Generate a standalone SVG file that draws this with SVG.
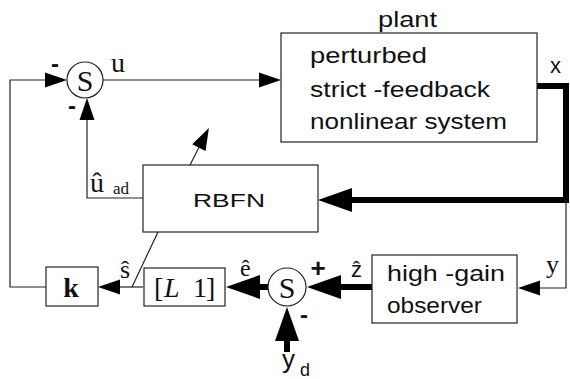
<svg xmlns="http://www.w3.org/2000/svg" width="570" height="379" viewBox="0 0 570 379">
<style>
.box{fill:#fff;stroke:#222;stroke-width:1.2}
.sum{fill:#fff;stroke:#222;stroke-width:1.2}
.thin{fill:none;stroke:#222;stroke-width:1.2}
.thick{fill:none;stroke:#000;stroke-width:6}
.sans{font-family:"Liberation Sans",Arial,sans-serif;fill:#111}
.serif{font-family:"Liberation Serif","DejaVu Serif",serif;fill:#111}
</style>
<defs>
<marker id="aT" markerUnits="userSpaceOnUse" markerWidth="24" markerHeight="16" refX="0" refY="7.5" orient="auto" overflow="visible">
<path d="M0,0 L22,7.5 L0,15 z" fill="#000"/>
</marker>
<marker id="aK" markerUnits="userSpaceOnUse" markerWidth="36" markerHeight="26" refX="0" refY="12" orient="auto" overflow="visible">
<path d="M0,0 L34,12 L0,24 z" fill="#000"/>
</marker>
</defs>
<rect width="570" height="379" fill="#fff"/>

<g id="connectors">
<polyline class="thin" points="46,287 10,287 10,80 45,80" marker-end="url(#aT)"/>
<line class="thin" x1="103" y1="80" x2="259" y2="80" marker-end="url(#aT)"/>
<polyline class="thin" points="143,198 87,198 87,120" marker-end="url(#aT)"/>
<line class="thin" x1="190" y1="165" x2="198.9" y2="147.6" marker-end="url(#aT)"/>
<polyline class="thick" points="537,86 566,86 566,200 352,200" marker-end="url(#aK)"/>
<polyline class="thin" points="566,200 566,288 540,288" marker-end="url(#aT)"/>
<line class="thick" x1="372" y1="287" x2="341" y2="287" marker-end="url(#aK)"/>
<line class="thick" x1="269" y1="287" x2="260" y2="287" marker-end="url(#aK)"/>
<line class="thick" x1="287" y1="352" x2="287" y2="341" marker-end="url(#aK)"/>
<line class="thin" x1="143" y1="287" x2="120" y2="287" marker-end="url(#aT)"/>
<line class="thin" x1="132" y1="287" x2="158" y2="232"/>
</g>

<g id="sum1">
<circle class="sum" cx="85" cy="80" r="18"/>
<text class="serif" x="85" y="90.5" font-size="30" text-anchor="middle">S</text>
<text class="sans" x="55" y="72" font-size="24" font-weight="bold" text-anchor="middle">-</text>
<text class="sans" x="72" y="114" font-size="24" font-weight="bold" text-anchor="middle">-</text>
<text class="serif" x="111" y="72" font-size="28">u</text>
</g>

<g id="plant">
<text class="sans" x="378" y="27" font-size="22" textLength="59" lengthAdjust="spacingAndGlyphs">plant</text>
<rect class="box" x="281" y="33" width="256" height="109"/>
<text class="sans" x="310" y="63" font-size="22" textLength="117" lengthAdjust="spacingAndGlyphs">perturbed</text>
<text class="sans" x="310" y="97" font-size="22" textLength="180" lengthAdjust="spacingAndGlyphs">strict -feedback</text>
<text class="sans" x="310" y="129" font-size="22" textLength="197" lengthAdjust="spacingAndGlyphs">nonlinear system</text>
<text class="sans" x="550" y="73" font-size="22">x</text>
</g>

<g id="rbfn">
<rect class="box" x="143" y="165" width="175" height="67"/>
<text class="sans" x="193" y="207" font-size="19" textLength="72" lengthAdjust="spacingAndGlyphs">RBFN</text>
<text class="serif" x="90" y="192" font-size="28">û</text>
<text class="serif" x="113" y="194" font-size="17">ad</text>
</g>

<g id="k">
<rect class="box" x="46" y="267" width="52" height="39"/>
<text class="serif" x="71" y="297" font-size="28" font-weight="bold" text-anchor="middle">k</text>
<text class="serif" x="120" y="278" font-size="26">ŝ</text>
</g>

<g id="L1">
<rect class="box" x="144" y="268" width="81" height="38"/>
<text class="serif" font-size="28" y="297"><tspan x="154">[</tspan><tspan x="164" font-style="italic">L</tspan><tspan x="193">1</tspan><tspan x="206">]</tspan></text>
<text class="serif" x="240" y="276" font-size="24">ê</text>
</g>

<g id="sum2">
<circle class="sum" cx="287" cy="287" r="19"/>
<text class="serif" x="287" y="297.5" font-size="30" text-anchor="middle">S</text>
<text class="sans" x="318" y="277" font-size="26" font-weight="bold" text-anchor="middle">+</text>
<text class="sans" x="304" y="323" font-size="24" font-weight="bold" text-anchor="middle">-</text>
<text class="sans" x="351" y="277" font-size="22">ẑ</text>
<text class="sans" x="282" y="368" font-size="26">y</text>
<text class="sans" x="300" y="376" font-size="18">d</text>
</g>

<g id="observer">
<rect class="box" x="372" y="255" width="145" height="68"/>
<text class="sans" x="387" y="281" font-size="22" textLength="118" lengthAdjust="spacingAndGlyphs">high -gain</text>
<text class="sans" x="387" y="313" font-size="22" textLength="95" lengthAdjust="spacingAndGlyphs">observer</text>
<text class="serif" x="546" y="273" font-size="26">y</text>
</g>
</svg>
